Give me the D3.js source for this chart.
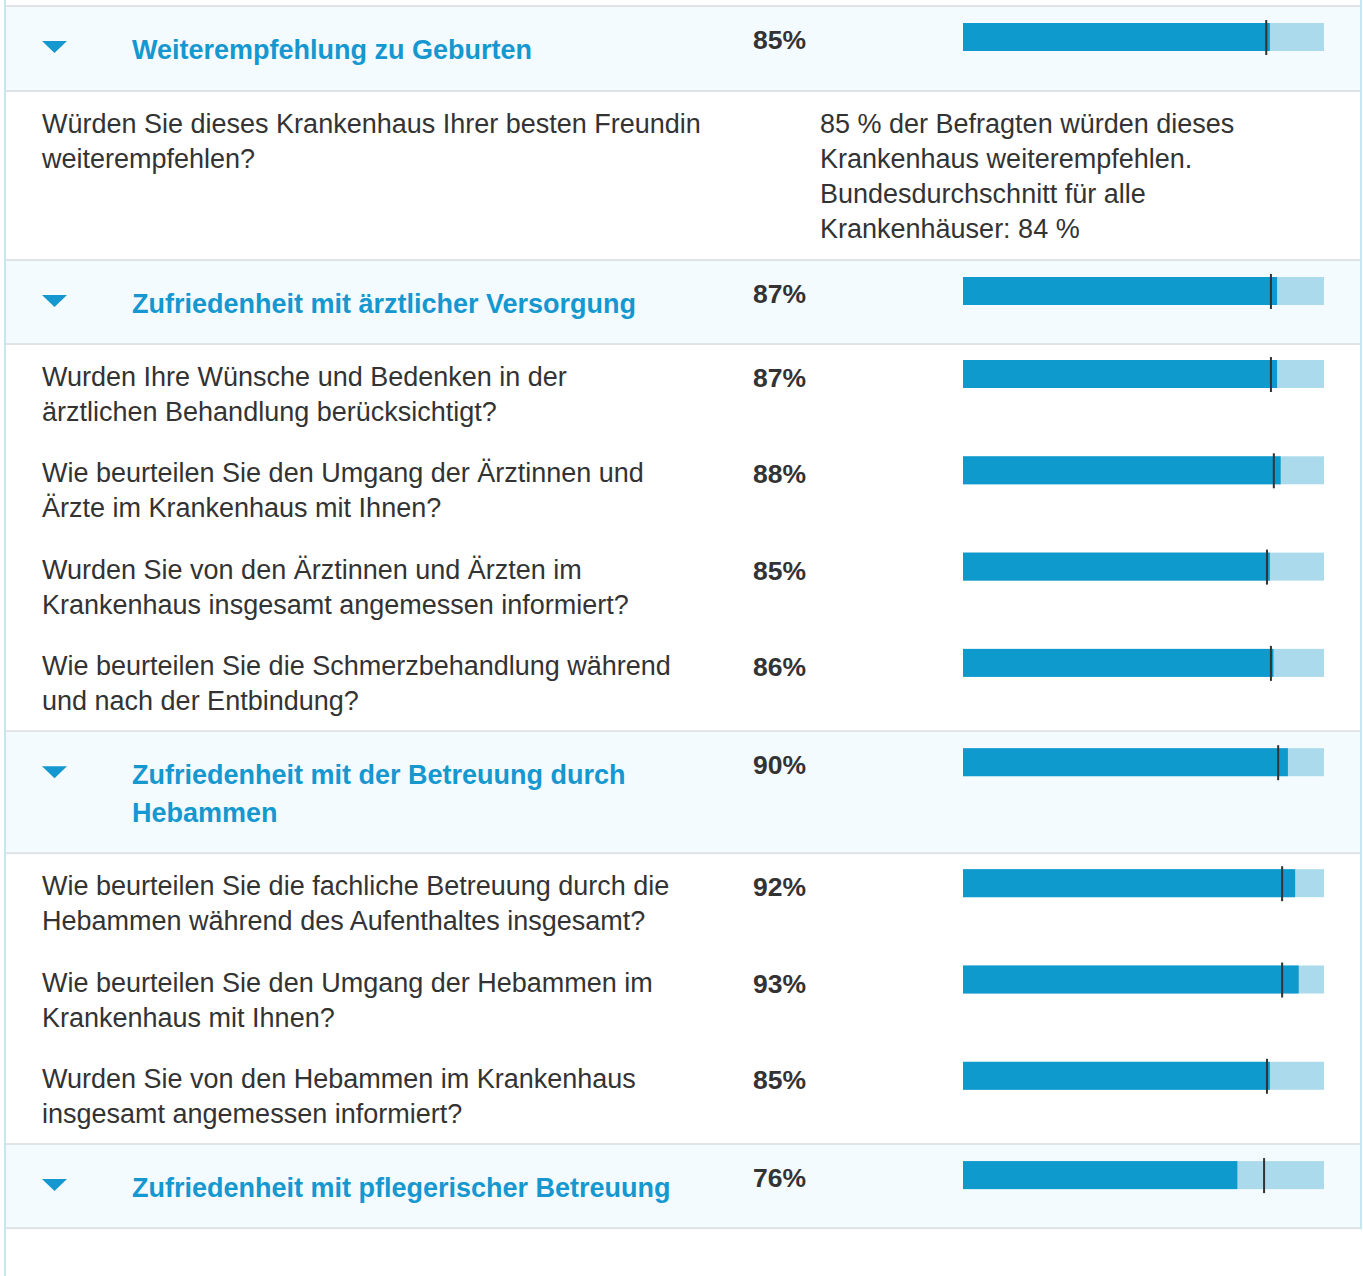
<!DOCTYPE html>
<html>
<head>
<meta charset="utf-8">
<script src="https://cdn.jsdelivr.net/npm/d3@7"></script>
<style>
  body { margin: 0; background: #fff; }
  svg { display: block; }
</style>
</head>
<body>
<svg id="drawing_region"></svg>
<script>
// row kinds: "h" = section header, "d" = detail text, "q" = question
const kinds = ["h", "d", "h", "q", "q", "q", "q", "h", "q", "q", "q", "h"];
const labels = [
  "Weiterempfehlung zu Geburten",
  "Würden Sie dieses Krankenhaus Ihrer besten Freundin\nweiterempfehlen?",
  "Zufriedenheit mit ärztlicher Versorgung",
  "Wurden Ihre Wünsche und Bedenken in der\närztlichen Behandlung berücksichtigt?",
  "Wie beurteilen Sie den Umgang der Ärztinnen und\nÄrzte im Krankenhaus mit Ihnen?",
  "Wurden Sie von den Ärztinnen und Ärzten im\nKrankenhaus insgesamt angemessen informiert?",
  "Wie beurteilen Sie die Schmerzbehandlung während\nund nach der Entbindung?",
  "Zufriedenheit mit der Betreuung durch\nHebammen",
  "Wie beurteilen Sie die fachliche Betreuung durch die\nHebammen während des Aufenthaltes insgesamt?",
  "Wie beurteilen Sie den Umgang der Hebammen im\nKrankenhaus mit Ihnen?",
  "Wurden Sie von den Hebammen im Krankenhaus\ninsgesamt angemessen informiert?",
  "Zufriedenheit mit pflegerischer Betreuung"
];
// hospital value (%) and federal average marker (%), null for detail rows
const values  = [85, null, 87, 87, 88, 85, 86, 90, 92, 93, 85, 76];
const average = [84, null, 85.3, 85.3, 86.1, 84.2, 85.3, 87.3, 88.4, 88.4, 84.2, 83.4];
const detailText = "85 % der Befragten würden dieses\nKrankenhaus weiterempfehlen.\nBundesdurchschnitt für alle\nKrankenhäuser: 84 %";

const W = 1363, H = 1276;
const font = "'Liberation Sans', Arial, Helvetica, sans-serif";
const fs = 27;
const blue = "#1597cf", dark = "#333", lineCol = "#dfe3e5", edge = "#c6e7f1";

const svg = d3.select("#drawing_region").attr("width", W).attr("height", H);
const x = d3.scaleLinear().domain([0, 100]).range([963, 1324]);

// layout: compute row tops from kinds
let y0 = 7;
const rows = kinds.map((k, i) => {
  const lines = labels[i].split("\n");
  let h;
  if (k === "h") h = (i === 0 ? 83 : 82) + (lines.length - 1) * 38;
  else if (k === "d") h = 167;
  else h = 96.3;
  const next = kinds[i + 1];
  const sep = (k === "h" || next === "h" || next === undefined);
  const r = { k, i, lines, top: y0, h, sep, v: values[i], a: average[i] };
  y0 += h + (sep ? 2 : 0);
  return r;
});

// top separator
svg.append("rect").attr("x", 4).attr("y", 5).attr("width", 1358).attr("height", 2).attr("fill", lineCol);

const g = svg.selectAll("g.row").data(rows).join("g").attr("class", "row")
  .attr("transform", d => `translate(0,${d.top})`);

g.filter(d => d.k === "h").append("rect")
  .attr("x", 4).attr("y", 0).attr("width", 1358).attr("height", d => d.h)
  .attr("fill", "#f3fbfe");

// separators below headers and before headers
g.filter(d => d.sep).append("rect")
  .attr("x", 4).attr("y", d => d.h).attr("width", 1358).attr("height", 2)
  .attr("fill", lineCol);

// header triangles
g.filter(d => d.k === "h").append("path")
  .attr("d", "M42,34 L67,34 L54.5,46 Z").attr("fill", blue);

// header titles
g.filter(d => d.k === "h").append("text")
  .attr("font-family", font).attr("font-size", fs).attr("font-weight", "bold").attr("fill", blue)
  .selectAll("tspan").data(d => d.lines).join("tspan")
  .attr("x", 132).attr("y", (l, j) => 52 + j * 38).text(l => l);

// question and detail text
g.filter(d => d.k !== "h").append("text")
  .attr("font-family", font).attr("font-size", fs).attr("fill", dark)
  .selectAll("tspan").data(d => d.lines).join("tspan")
  .attr("x", 42).attr("y", (l, j) => 41 + j * 35).text(l => l);

g.filter(d => d.k === "d").append("text")
  .attr("font-family", font).attr("font-size", fs).attr("fill", dark)
  .selectAll("tspan").data(detailText.split("\n")).join("tspan")
  .attr("x", 820).attr("y", (l, j) => 41 + j * 35).text(l => l);

// percentages
const bars = g.filter(d => d.v !== null);
bars.append("text")
  .attr("x", 753).attr("y", d => d.k === "h" ? 42 : 42)
  .attr("font-family", font).attr("font-size", 26.5).attr("font-weight", "bold").attr("fill", dark)
  .text(d => d.v + "%");

// bars: background, value, average marker
const barTop = d => d.k === "h" ? 16 : 15;
bars.append("rect").attr("x", x(0)).attr("y", barTop)
  .attr("width", x(100) - x(0)).attr("height", 28).attr("fill", "#aadaeb");
bars.append("rect").attr("x", x(0)).attr("y", barTop)
  .attr("width", d => x(d.v) - x(0)).attr("height", 28).attr("fill", "#0e9acd");
bars.append("rect").attr("x", d => x(d.a) - 1).attr("y", d => barTop(d) - 3)
  .attr("width", 2).attr("height", 35).attr("fill", dark);

// left and right borders
svg.append("rect").attr("x", 4).attr("y", 0).attr("width", 2).attr("height", H).attr("fill", edge);
svg.append("rect").attr("x", 1360).attr("y", 0).attr("width", 2).attr("height", y0).attr("fill", edge);
</script>
</body>
</html>
